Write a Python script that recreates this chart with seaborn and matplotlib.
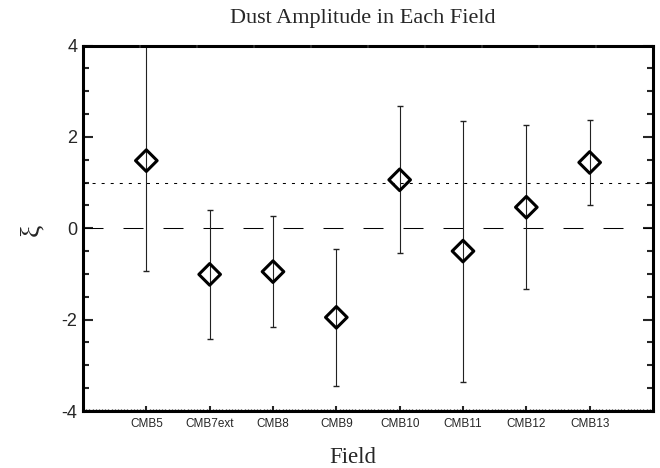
import numpy as np
import pandas as pd
import matplotlib
matplotlib.use("Agg")
import matplotlib.pyplot as plt
import seaborn as sns
from matplotlib.ticker import MultipleLocator

# ---- data ----
fields = ["CMB5", "CMB7ext", "CMB8", "CMB9", "CMB10", "CMB11", "CMB12", "CMB13"]
xi = [1.48, -1.01, -0.95, -1.95, 1.06, -0.50, 0.46, 1.44]
xi_upper = [4.0, 0.41, 0.27, -0.45, 2.67, 2.34, 2.25, 2.38]
xi_lower = [-0.935, -2.43, -2.17, -3.46, -0.54, -3.36, -1.33, 0.51]
yticks = [-4, -2, 0, 2, 4]
ytick_labels = ["-4", "-2", "0", "2", "4"]
ref_dotted = 1.0
ref_dashed = 0.0

sns.set_style("white")
plt.rcParams["font.family"] = ["Liberation Sans", "DejaVu Sans"]
serif = ["Liberation Serif", "DejaVu Serif"]

fig = plt.figure(figsize=(6.6, 4.68), dpi=100)
ax = fig.add_axes([83 / 660, 1 - 411 / 468, 570 / 660, 365.5 / 468])

pos = np.arange(1, len(fields) + 1)
df = pd.DataFrame({"pos": pos, "xi": xi, "lo": xi_lower, "hi": xi_upper, "field": fields})

ax.axhline(ref_dashed, color="black", lw=0.75, linestyle=(0, (19.2, 19.2)), zorder=1)
ax.axhline(ref_dotted, color="black", lw=0.75, linestyle=(0, (2.9, 5.8)), zorder=1)

ax.errorbar(df["pos"], df["xi"], yerr=[df["xi"] - df["lo"], df["hi"] - df["xi"]],
            fmt="none", ecolor="#222222", elinewidth=0.8, capsize=2.5, capthick=1.0, zorder=2)
sns.scatterplot(data=df, x="pos", y="xi", marker="D", s=121, facecolors="none",
                edgecolors="black", linewidth=2.2, ax=ax, zorder=3, legend=False)

ax2 = ax.twiny()
ax2.set_xlim(0, 10)
ax2.set_xticks(range(1, 10))
ax2.tick_params(axis="x", which="major", direction="in", length=2, width=1.5,
                top=True, labeltop=False, bottom=False)
for s in ax2.spines.values():
    s.set_visible(False)

ax.set_xlim(0, 9)
ax.set_ylim(-4, 4)
ax.set_xticks(pos)
ax.set_xticklabels(fields, fontsize=8.5)
ax.xaxis.set_minor_locator(MultipleLocator(0.05))
ax.set_yticks(yticks)
ax.set_yticklabels(ytick_labels, fontsize=13)
ax.yaxis.set_minor_locator(MultipleLocator(0.5))
ax.tick_params(axis="y", which="major", direction="in", length=7, width=1.5,
               left=True, right=True, pad=4)
ax.tick_params(axis="y", which="minor", direction="in", length=4, width=1.5,
               left=True, right=True)
ax.tick_params(axis="x", which="major", direction="in", length=3.5, width=1.5,
               bottom=True, top=False, pad=5)
ax.tick_params(axis="x", which="minor", direction="in", length=1.5, width=1,
               bottom=True, top=False)
for s in ax.spines.values():
    s.set_linewidth(2.2)
    s.set_color("black")

ax.set_title("Dust Amplitude in Each Field", fontfamily=serif, fontsize=16, pad=16)
ax.title.set_x(0.491)
ax.set_xlabel("Field", fontfamily=serif, fontsize=16.5)
ax.xaxis.set_label_coords(0.474, -0.0985)
ax.set_ylabel("ξ", fontfamily=serif, fontsize=20)
ax.yaxis.set_label_coords(-0.0684, 0.495)

fig.savefig("out.png", dpi=100)
